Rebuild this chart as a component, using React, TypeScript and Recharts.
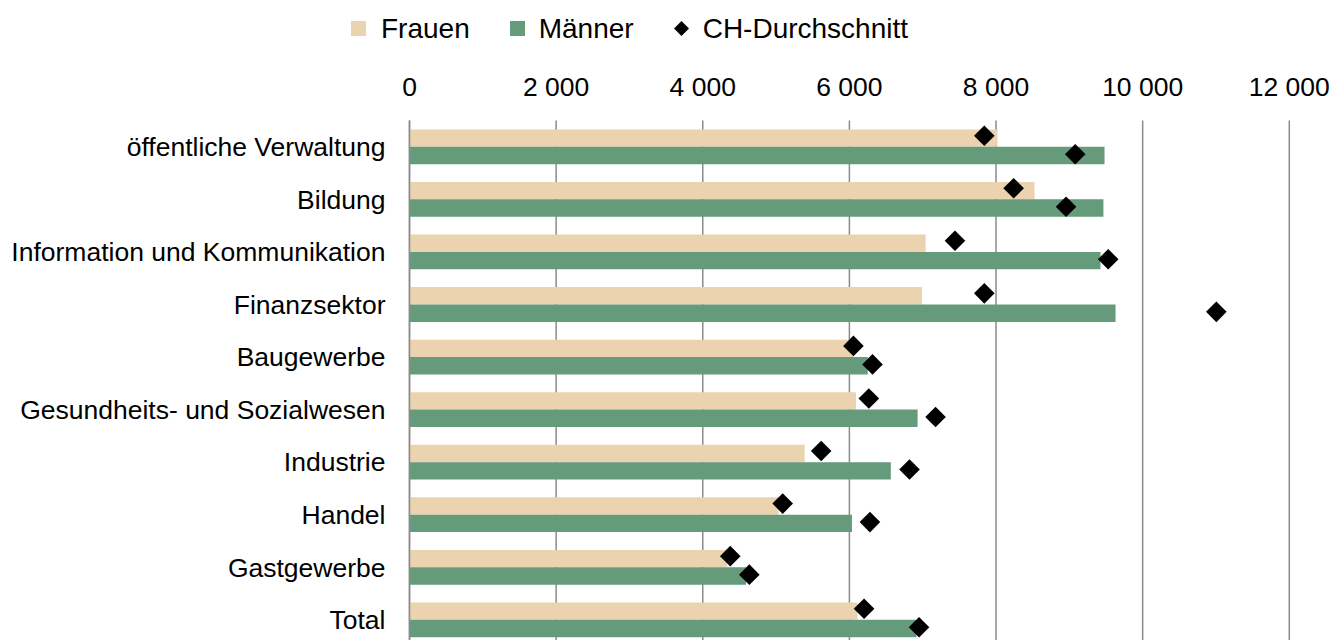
import React from "react"
import { ComposedChart, Bar, Scatter, XAxis, YAxis, CartesianGrid } from "recharts"

const categories = [
  "öffentliche Verwaltung",
  "Bildung",
  "Information und Kommunikation",
  "Finanzsektor",
  "Baugewerbe",
  "Gesundheits- und Sozialwesen",
  "Industrie",
  "Handel",
  "Gastgewerbe",
  "Total",
]

const frauen = [8020, 8525, 7040, 6990, 6060, 6090, 5390, 5035, 4330, 6110]
const maenner = [9480, 9465, 9425, 9630, 6250, 6930, 6565, 6035, 4590, 6915]
const chFrauen = [7840, 8240, 7440, 7840, 6055, 6265, 5615, 5090, 4375, 6200]
const chMaenner = [9080, 8955, 9530, 11005, 6315, 7175, 6820, 6280, 4635, 6950]

const xTicks = [0, 2000, 4000, 6000, 8000, 10000, 12000]

const seriesNames = ["Frauen", "Männer", "CH-Durchschnitt"]

const data = categories.map((name, i) => ({
  name,
  frauen: frauen[i],
  maenner: maenner[i],
  chFrauen: chFrauen[i],
  chMaenner: chMaenner[i],
}))

const BEIGE = "#EAD3AE"
const GREEN = "#659B7B"
const GRID = "#8a8a8a"
const FONT = '"Liberation Sans", Arial, sans-serif'
const BAR = 17.4

const fmt = (v: number) => String(v).replace(/\B(?=(\d{3})+(?!\d))/g, " ")

// diamond marker, shifted onto the matching bar
const diamond = (shift: number) => (props: any) => {
  const { cx, cy } = props
  if (cx == null || cy == null) return <g />
  const y = cy + shift
  const r = 10.3
  return <path d={`M${cx},${y - r}L${cx + r},${y}L${cx},${y + r}L${cx - r},${y}Z`} fill="#000" />
}

function LegendRow() {
  return (
    <div
      style={{
        position: "absolute",
        left: 351,
        top: 13,
        height: 31,
        display: "flex",
        alignItems: "center",
        fontFamily: FONT,
        fontSize: 28,
        color: "#000",
        whiteSpace: "nowrap",
      }}
    >
      <span style={{ width: 15, height: 15, background: BEIGE, marginRight: 15 }} />
      <span style={{ marginRight: 40 }}>{seriesNames[0]}</span>
      <span style={{ width: 15, height: 15, background: GREEN, marginRight: 14 }} />
      <span style={{ marginRight: 40 }}>{seriesNames[1]}</span>
      <svg width={15} height={15} style={{ marginRight: 14 }}>
        <path d="M7.5,0L15,7.5L7.5,15L0,7.5Z" fill="#000" />
      </svg>
      <span>{seriesNames[2]}</span>
    </div>
  )
}

export default function App() {
  return (
    <div
      style={{
        position: "absolute",
        left: 0,
        top: 0,
        width: 1336,
        height: 640,
        overflow: "hidden",
        background: "#fff",
      }}
    >
      <LegendRow />
      <ComposedChart
        width={1336}
        height={660}
        data={data}
        layout="vertical"
        barGap={0}
        margin={{ top: 80.4, right: 46.7, bottom: 14, left: 0 }}
      >
        <CartesianGrid horizontal={false} stroke={GRID} strokeWidth={1.5} />
        <XAxis
          type="number"
          orientation="top"
          domain={[0, 12000]}
          ticks={xTicks}
          tickFormatter={fmt}
          axisLine={false}
          tickLine={false}
          tickMargin={18}
          height={40}
          tick={{ fill: "#000", fontSize: 26.5, fontFamily: FONT }}
        />
        <YAxis
          type="category"
          dataKey="name"
          width={409.5}
          axisLine={{ stroke: GRID, strokeWidth: 1.5 }}
          tickLine={false}
          tickMargin={18}
          interval={0}
          tick={{ fill: "#000", fontSize: 26.5, fontFamily: FONT }}
        />
        <Bar dataKey="frauen" name={seriesNames[0]} fill={BEIGE} barSize={BAR} isAnimationActive={false} />
        <Bar dataKey="maenner" name={seriesNames[1]} fill={GREEN} barSize={BAR} isAnimationActive={false} />
        <Scatter dataKey="chFrauen" name={seriesNames[2]} shape={diamond(-11)} isAnimationActive={false} />
        <Scatter dataKey="chMaenner" name={seriesNames[2]} shape={diamond(7.5)} isAnimationActive={false} />
      </ComposedChart>
    </div>
  )
}
